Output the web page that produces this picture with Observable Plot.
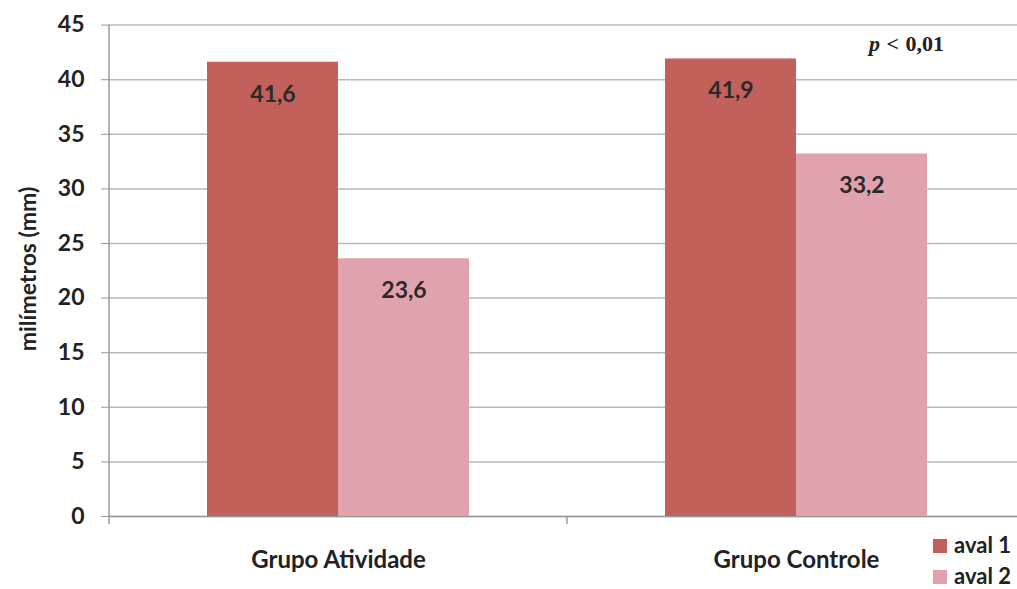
<!DOCTYPE html>
<html>
<head>
<meta charset="utf-8">
<script src="https://cdn.jsdelivr.net/npm/d3@7"></script>
<script src="https://cdn.jsdelivr.net/npm/@observablehq/plot@0.6"></script>
<style>
  html, body { margin: 0; padding: 0; background: #fff; overflow: hidden; }
  #wrap { position: relative; width: 1017px; height: 589px; overflow: hidden; font-family: Lato, "Open Sans", sans-serif; }
  #chart { position: absolute; left: 0; top: 0; }
  #chart svg { max-width: none !important; }
  .ylab { position: absolute; left: 27px; top: 269px; transform: translate(-50%, -50%) rotate(-90deg);
          font-weight: bold; font-size: 23px; color: #222; white-space: nowrap; }
  .pval { position: absolute; left: 869px; top: 31px; font-family: "Liberation Serif", "DejaVu Serif", serif;
          font-weight: bold; font-size: 22px; word-spacing: 1px; color: #222; white-space: nowrap; }
  .leg { position: absolute; left: 933px; font-weight: bold; font-size: 22px; line-height: 22px; color: #222; white-space: nowrap; }
  .leg span.sw { display: inline-block; width: 14px; height: 14px; margin-right: 7px; vertical-align: 0px; }
</style>
</head>
<body>
<div id="wrap">
  <div id="chart"></div>
  <div class="ylab">milímetros (mm)</div>
  <div class="pval"><i>p</i> &lt; 0,01</div>
  <div id="legend"></div>
</div>
<script>
const groups = ["Grupo Atividade", "Grupo Controle"];
const series = ["aval 1", "aval 2"];
const aval1 = [41.6, 41.9];
const aval2 = [23.6, 33.2];
const yTicks = [0, 5, 10, 15, 20, 25, 30, 35, 40, 45];
const colors = ["#c2605c", "#e0a3ad"];

const rows1 = groups.map((g, i) => ({group: g, serie: series[0], value: aval1[i]}));
const rows2 = groups.map((g, i) => ({group: g, serie: series[1], value: aval2[i]}));
const fmt = v => v.toFixed(1).replace(".", ",");

const axisLines = (index, scales, values, dims) => {
  const g = d3.create("svg:g");
  const y = scales.y;
  const left = dims.marginLeft;
  const mid = (dims.marginLeft + dims.width - dims.marginRight) / 2;
  g.append("line").attr("x1", left).attr("x2", left).attr("y1", y(45)).attr("y2", y(0) + 8)
    .attr("stroke", "#9a9a9a").attr("stroke-width", 1.5);
  g.append("line").attr("x1", mid).attr("x2", mid).attr("y1", y(0)).attr("y2", y(0) + 8)
    .attr("stroke", "#9a9a9a").attr("stroke-width", 1.5);
  return g.node();
};

const plot = Plot.plot({
  width: 1025,
  height: 589,
  marginLeft: 109,
  marginRight: 0,
  marginTop: 24.6,
  marginBottom: 73,
  style: {fontFamily: "Lato, 'Open Sans', sans-serif", background: "#fff", color: "#222", maxWidth: "none"},
  x: {domain: groups, padding: 0, label: null},
  y: {domain: [0, 45], label: null},
  color: {domain: series, range: colors},
  marks: [
    Plot.ruleY(yTicks, {stroke: "#b8b8b8", strokeWidth: 1.5}),
    Plot.ruleY([0], {stroke: "#9a9a9a", strokeWidth: 1.5}),
    Plot.barY(rows1, {x: "group", y: "value", fill: "serie", insetLeft: 98, insetRight: 229}),
    Plot.barY(rows2, {x: "group", y: "value", fill: "serie", insetLeft: 229, insetRight: 98}),
    Plot.text(rows1, {x: "group", y: "value", text: d => fmt(d.value), dx: -65.5, dy: 32,
      fontSize: 23, fontWeight: "bold", fill: "#2a2a2a"}),
    Plot.text(rows2, {x: "group", y: "value", text: d => fmt(d.value), dx: 65.5, dy: 32,
      fontSize: 23, fontWeight: "bold", fill: "#2a2a2a"}),
    Plot.axisY({ticks: yTicks, tickSize: 8, tickPadding: 17, stroke: "#9a9a9a", fill: "#222",
      fontSize: 23, fontWeight: "bold", label: null}),
    Plot.axisX({tickSize: 0, tickPadding: 34, fontSize: 24, fontWeight: "bold", fill: "#222", label: null}),
    axisLines
  ]
});
document.getElementById("chart").appendChild(plot);

const legend = document.getElementById("legend");
series.forEach((s, i) => {
  const d = document.createElement("div");
  d.className = "leg";
  d.style.top = (534 + i * 31) + "px";
  d.innerHTML = `<span class="sw" style="background:${colors[i]}"></span>${s}`;
  legend.appendChild(d);
});
</script>
</body>
</html>
